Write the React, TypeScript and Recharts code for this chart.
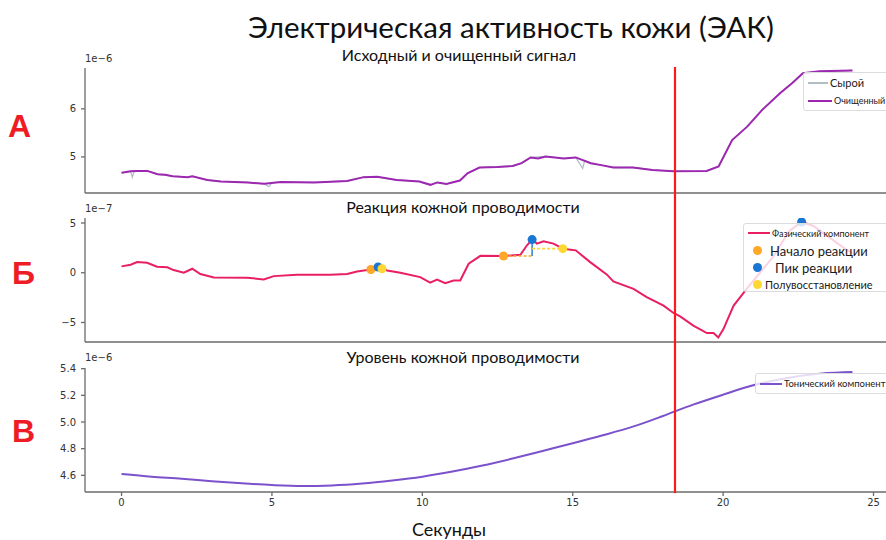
import React from 'react';
import { ComposedChart, Line, Scatter, XAxis, YAxis, ReferenceLine, Legend } from 'recharts';

// shared time axis (seconds)
const timeDomain = [-1.215, 25.515];
const timeTicks = [0, 5, 10, 15, 20, 25];
const rawTicks = [5, 6];
const phasicTicks = [-5, 0, 5];
const tonicTicks = [4.6, 4.8, 5.0, 5.2, 5.4];
const stimulusTimes = [18.4];

// panel A, x1e-6
const rawSignal = [
  { t: 0, v: 4.67 }, { t: 0.3, v: 4.7 }, { t: 0.36, v: 4.58 }, { t: 0.42, v: 4.7 },
  { t: 0.85, v: 4.72 }, { t: 1.2, v: 4.64 }, { t: 1.7, v: 4.6 }, { t: 2.2, v: 4.58 },
  { t: 2.35, v: 4.6 }, { t: 2.85, v: 4.52 }, { t: 3.3, v: 4.49 }, { t: 4.2, v: 4.47 },
  { t: 4.75, v: 4.44 }, { t: 4.9, v: 4.38 }, { t: 5.0, v: 4.46 }, { t: 5.3, v: 4.48 },
  { t: 6.4, v: 4.47 }, { t: 7.5, v: 4.5 }, { t: 8.05, v: 4.58 }, { t: 8.5, v: 4.59 },
  { t: 9.15, v: 4.52 }, { t: 9.9, v: 4.49 }, { t: 10.27, v: 4.42 }, { t: 10.5, v: 4.47 },
  { t: 10.8, v: 4.44 }, { t: 11.25, v: 4.51 }, { t: 11.5, v: 4.66 }, { t: 11.9, v: 4.78 },
  { t: 13.0, v: 4.81 }, { t: 13.3, v: 4.87 }, { t: 13.6, v: 4.99 }, { t: 14.1, v: 5.01 },
  { t: 14.7, v: 4.97 }, { t: 15.1, v: 4.99 }, { t: 15.33, v: 4.76 }, { t: 15.4, v: 4.93 },
  { t: 15.6, v: 4.87 }, { t: 16.35, v: 4.78 }, { t: 17.0, v: 4.78 }, { t: 17.65, v: 4.73 },
  { t: 18.35, v: 4.7 }, { t: 19.45, v: 4.71 }, { t: 19.85, v: 4.8 }, { t: 20.3, v: 5.35 },
  { t: 20.8, v: 5.63 }, { t: 21.3, v: 5.98 }, { t: 21.9, v: 6.33 }, { t: 22.3, v: 6.54 },
  { t: 22.65, v: 6.74 }, { t: 23.2, v: 6.78 }, { t: 24.3, v: 6.8 },
];
const cleanedSignal = [
  { t: 0, v: 4.67 }, { t: 0.3, v: 4.7 }, { t: 0.5, v: 4.71 }, { t: 0.85, v: 4.71 },
  { t: 1.2, v: 4.64 }, { t: 1.45, v: 4.63 }, { t: 1.7, v: 4.6 }, { t: 2.2, v: 4.58 },
  { t: 2.35, v: 4.6 }, { t: 2.85, v: 4.52 }, { t: 3.3, v: 4.49 }, { t: 4.2, v: 4.47 },
  { t: 4.75, v: 4.44 }, { t: 5.3, v: 4.48 }, { t: 6.4, v: 4.47 }, { t: 7.5, v: 4.5 },
  { t: 8.05, v: 4.58 }, { t: 8.5, v: 4.59 }, { t: 9.15, v: 4.52 }, { t: 9.9, v: 4.49 },
  { t: 10.27, v: 4.42 }, { t: 10.5, v: 4.47 }, { t: 10.8, v: 4.44 }, { t: 11.25, v: 4.51 },
  { t: 11.5, v: 4.66 }, { t: 11.9, v: 4.78 }, { t: 12.5, v: 4.79 }, { t: 13.0, v: 4.81 },
  { t: 13.3, v: 4.87 }, { t: 13.6, v: 4.99 }, { t: 13.85, v: 4.97 }, { t: 14.1, v: 5.01 },
  { t: 14.7, v: 4.97 }, { t: 15.1, v: 4.99 }, { t: 15.6, v: 4.87 }, { t: 15.95, v: 4.83 },
  { t: 16.35, v: 4.78 }, { t: 17.0, v: 4.78 }, { t: 17.65, v: 4.73 }, { t: 18.35, v: 4.7 },
  { t: 19.45, v: 4.71 }, { t: 19.85, v: 4.8 }, { t: 20.3, v: 5.35 }, { t: 20.8, v: 5.63 },
  { t: 21.3, v: 5.98 }, { t: 21.9, v: 6.33 }, { t: 22.3, v: 6.54 }, { t: 22.65, v: 6.74 },
  { t: 23.2, v: 6.78 }, { t: 24.3, v: 6.8 },
];

// panel B, x1e-7
const phasicComponent = [
  { t: 0, v: 0.64 }, { t: 0.3, v: 0.81 }, { t: 0.52, v: 1.07 }, { t: 0.85, v: 1.0 },
  { t: 1.18, v: 0.6 }, { t: 1.52, v: 0.54 }, { t: 1.73, v: 0.27 }, { t: 2.07, v: 0 },
  { t: 2.35, v: 0.4 }, { t: 2.62, v: -0.13 }, { t: 3.07, v: -0.47 }, { t: 4.17, v: -0.5 },
  { t: 4.73, v: -0.67 }, { t: 5.06, v: -0.34 }, { t: 5.84, v: -0.2 }, { t: 6.94, v: -0.2 },
  { t: 7.5, v: -0.13 }, { t: 7.83, v: 0.13 }, { t: 8.29, v: 0.33 }, { t: 8.53, v: 0.57 },
  { t: 8.66, v: 0.45 }, { t: 8.83, v: 0.23 }, { t: 9.27, v: 0 }, { t: 9.93, v: -0.44 },
  { t: 10.26, v: -1.0 }, { t: 10.49, v: -0.7 }, { t: 10.76, v: -1.05 }, { t: 11.04, v: -0.78 },
  { t: 11.26, v: -0.78 }, { t: 11.54, v: 0.9 }, { t: 11.93, v: 1.7 }, { t: 12.7, v: 1.68 },
  { t: 13.26, v: 1.8 }, { t: 13.48, v: 2.76 }, { t: 13.65, v: 3.33 }, { t: 13.81, v: 2.93 },
  { t: 14.03, v: 3.16 }, { t: 14.36, v: 2.93 }, { t: 14.67, v: 2.42 }, { t: 14.93, v: 2.32 },
  { t: 15.1, v: 2.25 }, { t: 15.58, v: 1.07 }, { t: 16.13, v: -0.17 }, { t: 16.35, v: -0.88 },
  { t: 17.02, v: -1.62 }, { t: 17.46, v: -2.46 }, { t: 18.02, v: -3.3 }, { t: 18.35, v: -4.04 },
  { t: 18.57, v: -4.38 }, { t: 19.01, v: -5.32 }, { t: 19.46, v: -6.06 }, { t: 19.68, v: -6.06 },
  { t: 19.84, v: -6.5 }, { t: 20.01, v: -5.66 }, { t: 20.35, v: -3.3 }, { t: 20.79, v: -1.6 },
  { t: 21.66, v: 1.6 }, { t: 22.2, v: 4.2 }, { t: 22.61, v: 5.1 }, { t: 23.0, v: 4.7 },
  { t: 23.6, v: 3.4 }, { t: 24.1, v: 2.3 }, { t: 24.3, v: 2.0 },
];
const reactionOnsets = [{ t: 8.29, v: 0.33 }, { t: 12.7, v: 1.68 }];
const reactionPeaks = [{ t: 8.53, v: 0.57 }, { t: 13.65, v: 3.33 }, { t: 22.61, v: 5.1 }];
const halfRecovery = [{ t: 8.66, v: 0.4 }, { t: 14.67, v: 2.42 }];

// panel C, x1e-6
const tonicComponent = [
  { t: 0, v: 4.61 }, { t: 1, v: 4.59 }, { t: 2, v: 4.575 }, { t: 3, v: 4.556 },
  { t: 4, v: 4.54 }, { t: 5, v: 4.527 }, { t: 6, v: 4.52 }, { t: 7, v: 4.524 },
  { t: 8, v: 4.538 }, { t: 9, v: 4.561 }, { t: 10, v: 4.59 }, { t: 11, v: 4.628 },
  { t: 12, v: 4.673 }, { t: 13, v: 4.726 }, { t: 14, v: 4.783 }, { t: 15, v: 4.84 },
  { t: 16, v: 4.9 }, { t: 17, v: 4.965 }, { t: 18, v: 5.045 }, { t: 19, v: 5.13 },
  { t: 20, v: 5.205 }, { t: 21, v: 5.275 }, { t: 22, v: 5.325 }, { t: 23, v: 5.358 },
  { t: 24, v: 5.373 }, { t: 24.3, v: 5.375 },
];

const C = {
  raw: '#B0BEC5',
  cleaned: '#9C27B0',
  phasic: '#E91E63',
  onset: '#FFA726',
  peak: '#1976D2',
  half: '#FDD835',
  tonic: '#7b52cc',
  stimulus: '#ff1a1a',
  spine: '#6b6b6b',
};

const tickFont = { fontSize: 10, fill: '#333', fontFamily: 'DejaVu Sans' };
const spine = { stroke: C.spine, strokeWidth: 1.3 };

function LegendBox({ entries, width, height }: any) {
  return (
    <div style={{ width, height, background: 'rgba(255,255,255,0.8)', border: '1px solid #dcdcdc', borderRadius: 3, boxSizing: 'border-box', fontFamily: 'Lato, sans-serif', color: '#1a1a1a' }}>
      {entries.map((e: any) => (
        <div key={e.label} style={{ display: 'flex', alignItems: 'center', height: e.h, whiteSpace: 'nowrap' }}>
          {e.kind === 'line' ? (
            <span style={{ display: 'inline-block', width: e.w, height: 2, background: e.color, marginLeft: 4, marginRight: 2 }} />
          ) : (
            <span style={{ display: 'inline-block', width: 9, height: 9, borderRadius: 5, background: e.color, marginLeft: 9, marginRight: e.gap }} />
          )}
          <span style={{ fontSize: e.size }}>{e.label}</span>
        </div>
      ))}
    </div>
  );
}

const legendA = [
  { label: 'Сырой', kind: 'line', color: C.raw, w: 20, h: 19, size: 11 },
  { label: 'Очищенный', kind: 'line', color: C.cleaned, w: 24, h: 17, size: 9 },
];
const legendB = [
  { label: 'Фазический компонент', kind: 'line', color: C.phasic, w: 22, h: 18, size: 9 },
  { label: 'Начало реакции', kind: 'dot', color: C.onset, gap: 8, h: 17, size: 13 },
  { label: 'Пик реакции', kind: 'dot', color: C.peak, gap: 13, h: 17, size: 13 },
  { label: 'Полувосстановление', kind: 'dot', color: C.half, gap: 3, h: 16, size: 11 },
];
const legendC = [
  { label: 'Тонический компонент', kind: 'line', color: C.tonic, w: 22, h: 19, size: 9.5 },
];

const textBase: React.CSSProperties = { position: 'absolute', whiteSpace: 'nowrap', fontFamily: 'Lato, sans-serif', color: '#111' };

function Frame({ bottomHeight, showTicks, yTicks, yDomain, yFmt }: any) {
  return [
    <XAxis key="x" dataKey="t" type="number" domain={timeDomain} ticks={timeTicks} allowDataOverflow
      height={bottomHeight} tick={showTicks ? tickFont : false} tickSize={4} tickMargin={3}
      axisLine={spine} tickLine={spine} />,
    <XAxis key="xt" xAxisId="top" orientation="top" type="number" domain={timeDomain} height={0}
      tick={false} tickLine={false} axisLine={spine} />,
    <YAxis key="y" type="number" domain={yDomain} ticks={yTicks} allowDataOverflow width={85}
      tick={tickFont} tickFormatter={yFmt} tickSize={4} tickMargin={5} axisLine={spine} tickLine={spine} />,
  ];
}

const legendProps = { layout: 'vertical' as const, align: 'center' as const, verticalAlign: 'middle' as const };

const stimulusRows = stimulusTimes.map((t) => ({ t, v: 0 }));

export default function App() {
  return (
    <div style={{ position: 'absolute', left: 0, top: 0, width: 886, height: 540, overflow: 'hidden', background: '#fff' }}>
      <div style={{ ...textBase, left: 0, width: 1022, textAlign: 'center', top: 9, fontSize: 29.5 }}>Электрическая активность кожи (ЭАК)</div>

      <div style={{ ...textBase, left: 0, width: 918, textAlign: 'center', top: 45, fontSize: 16 }}>Исходный и очищенный сигнал</div>
      <div style={{ ...textBase, left: 0, width: 926, textAlign: 'center', top: 197, fontSize: 16 }}>Реакция кожной проводимости</div>
      <div style={{ ...textBase, left: 0, width: 926, textAlign: 'center', top: 347, fontSize: 16 }}>Уровень кожной проводимости</div>

      <div style={{ ...textBase, left: 85, top: 53, fontSize: 10, fontFamily: 'DejaVu Sans', color: '#333' }}>1e−6</div>
      <div style={{ ...textBase, left: 85, top: 203, fontSize: 10, fontFamily: 'DejaVu Sans', color: '#333' }}>1e−7</div>
      <div style={{ ...textBase, left: 85, top: 352, fontSize: 10, fontFamily: 'DejaVu Sans', color: '#333' }}>1e−6</div>

      <div style={{ ...textBase, left: 8, top: 110, fontSize: 32, lineHeight: '32px', fontWeight: 700, fontFamily: 'Liberation Sans', color: '#ee1c25' }}>А</div>
      <div style={{ ...textBase, left: 12, top: 257, fontSize: 32, lineHeight: '32px', fontWeight: 700, fontFamily: 'Liberation Sans', color: '#ee1c25' }}>Б</div>
      <div style={{ ...textBase, left: 12, top: 415, fontSize: 32, lineHeight: '32px', fontWeight: 700, fontFamily: 'Liberation Sans', color: '#ee1c25' }}>В</div>

      <div style={{ ...textBase, left: 0, width: 898, textAlign: 'center', top: 518, fontSize: 18 }}>Секунды</div>

      {/* A: raw + cleaned */}
      <div style={{ position: 'absolute', left: 0, top: 0 }}>
        <ComposedChart width={900} height={200} margin={{ top: 68, right: 11, bottom: 0, left: 0 }}>
          {Frame({ bottomHeight: 7, showTicks: false, yTicks: rawTicks, yDomain: [4.25, 6.85], yFmt: (v: number) => String(v) })}
          <Line data={rawSignal} dataKey="v" stroke={C.raw} strokeWidth={1.3} dot={false} isAnimationActive={false} />
          <Line data={cleanedSignal} dataKey="v" stroke={C.cleaned} strokeWidth={2} dot={false} isAnimationActive={false} />
          <Legend {...legendProps} wrapperStyle={{ left: 803, top: 72, width: 110 }}
            content={() => <LegendBox entries={legendA} width={110} height={39} />} />
        </ComposedChart>
      </div>

      {/* B: phasic component */}
      <div style={{ position: 'absolute', left: 0, top: 200 }}>
        <ComposedChart width={900} height={150} margin={{ top: 18, right: 11, bottom: 0, left: 0 }}>
          {Frame({ bottomHeight: 8, showTicks: false, yTicks: phasicTicks, yDomain: [-6.96, 5.5], yFmt: (v: number) => (v < 0 ? '−' + Math.abs(v) : String(v)) })}
          <Line data={phasicComponent} dataKey="v" stroke={C.phasic} strokeWidth={2} dot={false} isAnimationActive={false} />
          {reactionOnsets.map((o, i) => (
            <ReferenceLine key={'on' + i} segment={[{ x: o.t, y: o.v }, { x: reactionPeaks[i].t, y: o.v }]}
              stroke={C.onset} strokeWidth={1.6} strokeDasharray="3 2" />
          ))}
          {reactionOnsets.map((o, i) => (
            <ReferenceLine key={'amp' + i} segment={[{ x: reactionPeaks[i].t, y: o.v }, { x: reactionPeaks[i].t, y: reactionPeaks[i].v }]}
              stroke={C.peak} strokeWidth={1.4} />
          ))}
          {halfRecovery.map((h, i) => (
            <ReferenceLine key={'hr' + i} segment={[{ x: reactionPeaks[i].t, y: h.v }, { x: h.t, y: h.v }]}
              stroke={C.half} strokeWidth={1.6} strokeDasharray="3 2" />
          ))}
          <Scatter data={reactionOnsets} dataKey="v" fill={C.onset} isAnimationActive={false} />
          <Scatter data={reactionPeaks} dataKey="v" fill={C.peak} isAnimationActive={false} />
          <Scatter data={halfRecovery} dataKey="v" fill={C.half} isAnimationActive={false} />
          <Legend {...legendProps} wrapperStyle={{ left: 743, top: 23, width: 160 }}
            content={() => <LegendBox entries={legendB} width={160} height={69} />} />
        </ComposedChart>
      </div>

      {/* C: tonic component */}
      <div style={{ position: 'absolute', left: 0, top: 350 }}>
        <ComposedChart width={900} height={190} margin={{ top: 18, right: 11, bottom: 0, left: 0 }}>
          {Frame({ bottomHeight: 48, showTicks: true, yTicks: tonicTicks, yDomain: [4.475, 5.405], yFmt: (v: number) => v.toFixed(1) })}
          <Line data={tonicComponent} dataKey="v" type="monotone" stroke={C.tonic} strokeWidth={2} dot={false} isAnimationActive={false} />
          <Legend {...legendProps} wrapperStyle={{ left: 755, top: 23, width: 140 }}
            content={() => <LegendBox entries={legendC} width={140} height={21} />} />
        </ComposedChart>
      </div>

      {/* stimulus marker across all panels */}
      <div style={{ position: 'absolute', left: 0, top: 0, pointerEvents: 'none' }}>
        <ComposedChart width={900} height={540} data={stimulusRows} margin={{ top: 67, right: 11, bottom: 44, left: 85 }}>
          <XAxis dataKey="t" type="number" domain={timeDomain} allowDataOverflow hide />
          <YAxis dataKey="v" type="number" domain={[0, 1]} allowDataOverflow hide />
          <Line dataKey="v" stroke="none" dot={false} isAnimationActive={false} />
          {stimulusTimes.map((s) => (
            <ReferenceLine key={s} x={s} stroke={C.stimulus} strokeWidth={2.2} ifOverflow="visible" />
          ))}
        </ComposedChart>
      </div>
    </div>
  );
}
